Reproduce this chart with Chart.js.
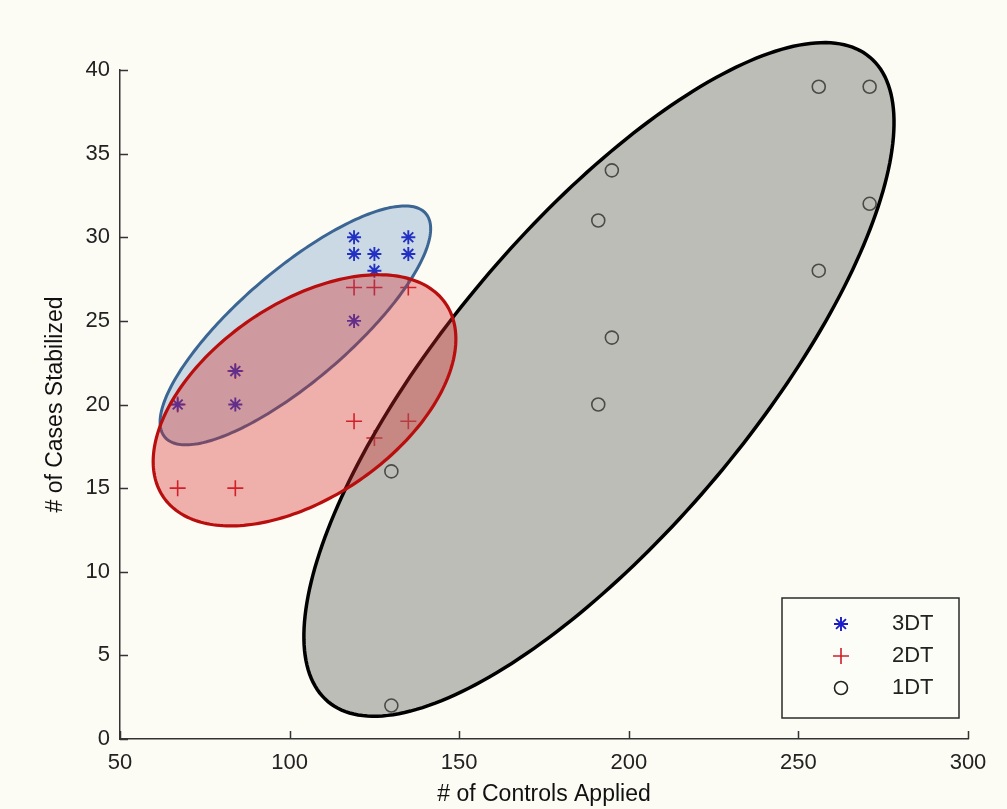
<!DOCTYPE html>
<html>
<head>
<meta charset="utf-8">
<script src="https://cdn.jsdelivr.net/npm/chart.js@4.4.1/dist/chart.umd.min.js"></script>
<style>
  html, body { margin: 0; padding: 0; background: #fcfcf5; }
  #wrap { width: 1007px; height: 809px; }
</style>
</head>
<body>
<div id="wrap"><canvas id="c" width="1007" height="809"></canvas></div>
<script>
// ---- data ----
const seriesNames = ['3DT', '2DT', '1DT'];

const dt3X = [67, 84, 84, 119, 119, 119, 125, 125, 135, 135];
const dt3Y = [20, 20, 22, 25, 29, 30, 28, 29, 29, 30];

const dt2X = [67, 84, 67, 84, 119, 125, 135, 119, 125, 135];
const dt2Y = [15, 15, 20, 22, 27, 27, 27, 19, 18, 19];

const dt1X = [130, 130, 191, 195, 195, 191, 256, 271, 271, 256];
const dt1Y = [16, 2, 31, 34, 24, 20, 39, 39, 32, 28];

// ellipse (confidence region) parameters in data units: centre, and two conjugate half-axis vectors
const ellipse1DT = [191.2, 21.5, 79.9, 19.26, -34.4, 5.88];
const ellipse3DT = [101.7, 24.73, 38.44, 6.69, -10.64, 2.50];
const ellipse2DT = [104.4, 20.25, 41.55, 5.80, -16.26, 4.77];

const xTicks = [50, 100, 150, 200, 250, 300];
const yTicks = [0, 5, 10, 15, 20, 25, 30, 35, 40];

const xTitle = '# of Controls Applied';
const yTitle = '# of Cases Stabilized';

// ---- build ----
const toPts = (xs, ys) => xs.map((x, i) => ({ x: x, y: ys[i] }));
const FONT = "'Liberation Sans', Arial, sans-serif";

const ellipses = [
  { p: ellipse1DT, fill: 'rgba(120,120,114,0.47)', stroke: '#000000', lw: 3.5 },
  { p: ellipse3DT, fill: 'rgba(50,110,180,0.25)', stroke: '#3b6593', lw: 3 },
  { p: ellipse2DT, fill: 'rgba(215,40,40,0.36)', stroke: '#b80e0e', lw: 3.2 }
];

const bgPlugin = {
  id: 'bg',
  beforeDraw(chart) {
    const ctx = chart.ctx;
    ctx.save();
    ctx.fillStyle = '#fcfcf5';
    ctx.fillRect(0, 0, chart.width, chart.height);
    ctx.restore();
  }
};

const ellipsePlugin = {
  id: 'ellipses',
  afterDatasetsDraw(chart) {
    const ctx = chart.ctx;
    const xs = chart.scales.x, ys = chart.scales.y;
    ellipses.forEach(e => {
      const [cx, cy, ux, uy, vx, vy] = e.p;
      ctx.save();
      ctx.beginPath();
      const N = 240;
      for (let i = 0; i <= N; i++) {
        const t = i / N * Math.PI * 2;
        const px = xs.getPixelForValue(cx + ux * Math.cos(t) + vx * Math.sin(t));
        const py = ys.getPixelForValue(cy + uy * Math.cos(t) + vy * Math.sin(t));
        if (i === 0) ctx.moveTo(px, py); else ctx.lineTo(px, py);
      }
      ctx.closePath();
      ctx.fillStyle = e.fill;
      ctx.fill();
      ctx.lineWidth = e.lw;
      ctx.strokeStyle = e.stroke;
      ctx.stroke();
      ctx.restore();
    });
  }
};

const tickPlugin = {
  id: 'innerTicks',
  afterDraw(chart) {
    const ctx = chart.ctx;
    const xs = chart.scales.x, ys = chart.scales.y;
    const a = chart.chartArea;
    ctx.save();
    ctx.strokeStyle = '#333333';
    ctx.lineWidth = 1.5;
    ctx.beginPath();
    xTicks.forEach(v => {
      const px = Math.round(xs.getPixelForValue(v)) + 0.5;
      ctx.moveTo(px, a.bottom);
      ctx.lineTo(px, a.bottom - 8);
    });
    yTicks.forEach(v => {
      const py = Math.round(ys.getPixelForValue(v)) + 0.5;
      ctx.moveTo(a.left, py);
      ctx.lineTo(a.left + 8, py);
    });
    ctx.stroke();
    ctx.restore();
  }
};

const legendPlugin = {
  id: 'boxLegend',
  afterDraw(chart) {
    const ctx = chart.ctx;
    const bx = 782, by = 598, bw = 177, bh = 120;
    ctx.save();
    ctx.fillStyle = '#fdfdf8';
    ctx.fillRect(bx, by, bw, bh);
    ctx.strokeStyle = '#2a2a2a';
    ctx.lineWidth = 1.5;
    ctx.strokeRect(bx, by, bw, bh);
    const rows = [624, 656, 688];
    const mx = 841, tx = 892;
    chart.data.datasets.forEach((ds, i) => {
      const y = rows[i];
      ctx.save();
      ctx.strokeStyle = ds.borderColor;
      ctx.fillStyle = ds.backgroundColor;
      ctx.lineWidth = ds.borderWidth;
      Chart.helpers.drawPoint(ctx, { pointStyle: ds.pointStyle, radius: ds.pointRadius, borderWidth: ds.borderWidth }, mx, y);
      ctx.restore();
      ctx.fillStyle = '#222222';
      ctx.font = '22px ' + FONT;
      ctx.textAlign = 'left';
      ctx.textBaseline = 'middle';
      ctx.fillText(ds.label, tx, y);
    });
    ctx.restore();
  }
};

const chart = new Chart(document.getElementById('c'), {
  type: 'scatter',
  data: {
    datasets: [
      {
        label: seriesNames[0], data: toPts(dt3X, dt3Y),
        pointStyle: 'star', pointRadius: 7, borderWidth: 1.9,
        borderColor: '#1c1cc8', backgroundColor: '#1c1cc8'
      },
      {
        label: seriesNames[1], data: toPts(dt2X, dt2Y),
        pointStyle: 'cross', pointRadius: 8, borderWidth: 1.6,
        borderColor: '#d01c2c', backgroundColor: '#d01c2c'
      },
      {
        label: seriesNames[2], data: toPts(dt1X, dt1Y),
        pointStyle: 'circle', pointRadius: 6.5, borderWidth: 1.6,
        borderColor: '#222222', backgroundColor: 'rgba(0,0,0,0)'
      }
    ]
  },
  options: {
    responsive: false,
    animation: false,
    events: [],
    layout: { padding: { top: 70, right: 39, left: 0, bottom: 0 } },
    plugins: { legend: { display: false }, tooltip: { enabled: false } },
    scales: {
      x: {
        type: 'linear', min: 50, max: 300,
        afterBuildTicks: s => { s.ticks = xTicks.map(v => ({ value: v })); },
        afterFit: s => { s.height = 70; },
        ticks: { color: '#222222', font: { family: FONT, size: 22 }, padding: 11, maxRotation: 0 },
        grid: { drawOnChartArea: false, drawTicks: false },
        border: { display: true, color: '#333333', width: 1.5 },
        title: { display: true, text: xTitle, color: '#111111', font: { family: FONT, size: 23 }, padding: { bottom: 1, top: 0 } }
      },
      y: {
        type: 'linear', min: 0, max: 40,
        afterBuildTicks: s => { s.ticks = yTicks.map(v => ({ value: v })); },
        afterFit: s => { s.width = 120; },
        ticks: { color: '#222222', font: { family: FONT, size: 22 }, padding: 10 },
        grid: { drawOnChartArea: false, drawTicks: false },
        border: { display: true, color: '#333333', width: 1.5 },
        title: { display: true, text: yTitle, color: '#111111', font: { family: FONT, size: 23 }, padding: { top: 42, bottom: 0 } }
      }
    }
  },
  plugins: [bgPlugin, ellipsePlugin, tickPlugin, legendPlugin]
});
</script>
</body>
</html>
